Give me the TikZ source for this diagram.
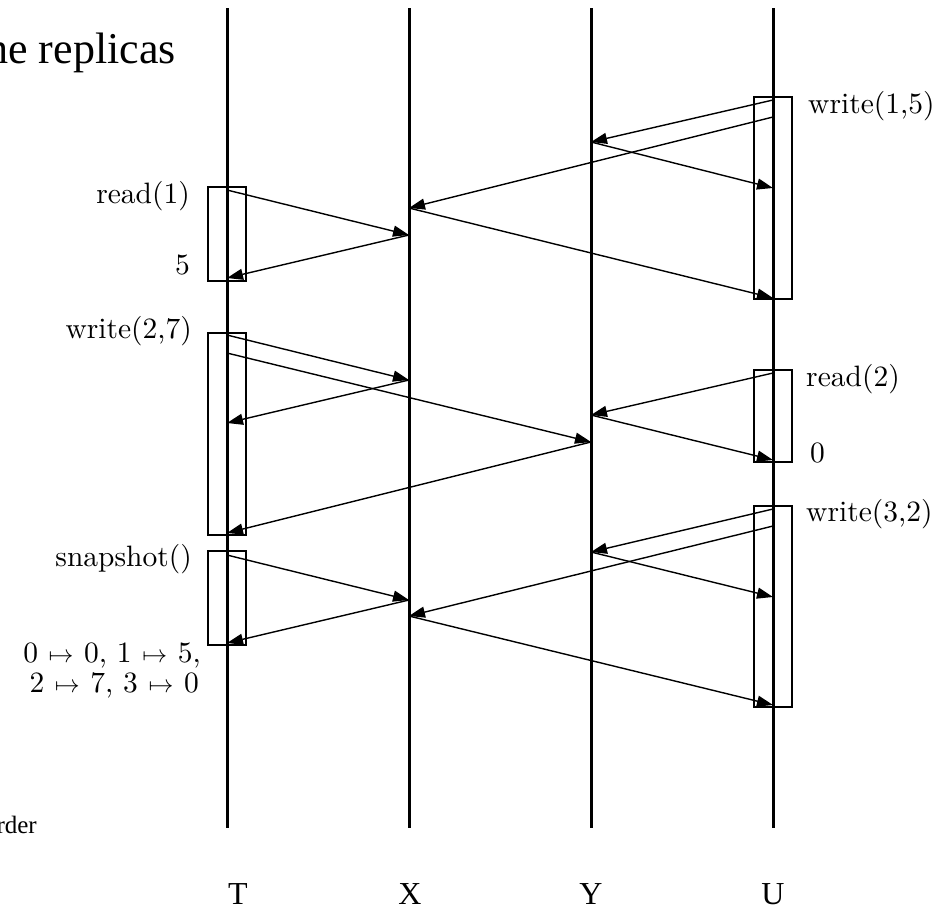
\documentclass[tikz,border=0pt]{standalone}
\usepackage{fontspec}
\newfontfamily\timesf{Liberation Serif}
\newfontfamily\lmten[Extension=.otf]{lmroman10-regular}
\usetikzlibrary{arrows.meta}
\newcommand\mapgap{\hspace{0.36em}$\mapsto$\hspace{0.36em}}
\begin{document}
\begin{tikzpicture}[x=1pt,y=-1pt,
  life/.style={line width=3pt},
  actbox/.style={line width=2.8pt},
  msg/.style={line width=1.4pt,-{Triangle[length=16pt,width=11pt]}},
  lbl/.style={font=\lmten\fontsize{29.5}{34}\selectfont,inner sep=0pt},
  proc/.style={font=\timesf\fontsize{32}{34}\selectfont,inner sep=0pt},
  captxt/.style={font=\timesf\fontsize{44}{48}\selectfont,inner sep=0pt}]
\useasboundingbox (0,0) rectangle (944,918);
% lifelines
\foreach \n/\x/\lx in {T/227/238,X/409/410,Y/591/591,U/773/773}{
  \coordinate (\n top) at (\x,8);
  \coordinate (\n bot) at (\x,828);
  \draw[life] (\n top) -- (\n bot);
  \node[proc,anchor=base] (\n lab) at (\lx,904) {\n};
}
% activation boxes
\draw[actbox] (208,187) rectangle (246,281);
\draw[actbox] (208,333) rectangle (246,535);
\draw[actbox] (208,551) rectangle (246,645);
\draw[actbox] (754,97) rectangle (792,299);
\draw[actbox] (754,370) rectangle (792,462);
\draw[actbox] (754,506) rectangle (792,707);
% message end points
\foreach \n/\x/\y in {
  a1/773/100, a2/591/142, a3/773/188,
  b1/773/117, b2/409/208, b3/773/298,
  c1/227/190, c2/409/235, c3/227/278,
  d1/227/335, d2/409/380, d3/227/423,
  e1/227/353, e2/591/442, e3/227/533,
  f1/773/373, f2/591/415, f3/773/460,
  g1/773/509, g2/591/552, g3/773/597,
  h1/773/526, h2/409/616, h3/773/705,
  i1/227/555, i2/409/600, i3/227/643}{
  \coordinate (\n) at (\x,\y);
}
\foreach \m in {a,b,c,d,e,f,g,h,i}{
  \draw[msg] (\m1) -- (\m2);
  \draw[msg] (\m2) -- (\m3);
}
% labels
\node[lbl,anchor=base east] (l1) at (190,203) {read(1)};
\node[lbl,anchor=base east] (l2) at (190,274) {5};
\node[lbl,anchor=base east] (l3) at (192,338) {write(2,7)};
\node[lbl,anchor=base east] (l4) at (192,566) {snapshot()};
\node[lbl,anchor=base east] (l5) at (201,662) {0\mapgap 0, 1\mapgap 5,};
\node[lbl,anchor=base east] (l6) at (199,692) {2\mapgap 7, 3\mapgap 0};
\node[lbl,anchor=base west] (r1) at (808,113) {write(1,5)};
\node[lbl,anchor=base west] (r2) at (806,386) {read(2)};
\node[lbl,anchor=base west] (r3) at (810,462) {0};
\node[lbl,anchor=base west] (r4) at (806,521) {write(3,2)};
% cut-off caption fragments
\node[captxt,anchor=base east] (c1t) at (176,63) {he replicas};
\node[font=\timesf\fontsize{25}{28}\selectfont,inner sep=0pt,anchor=base east] (c2t) at (37,833) {rder};
\end{tikzpicture}
\end{document}
